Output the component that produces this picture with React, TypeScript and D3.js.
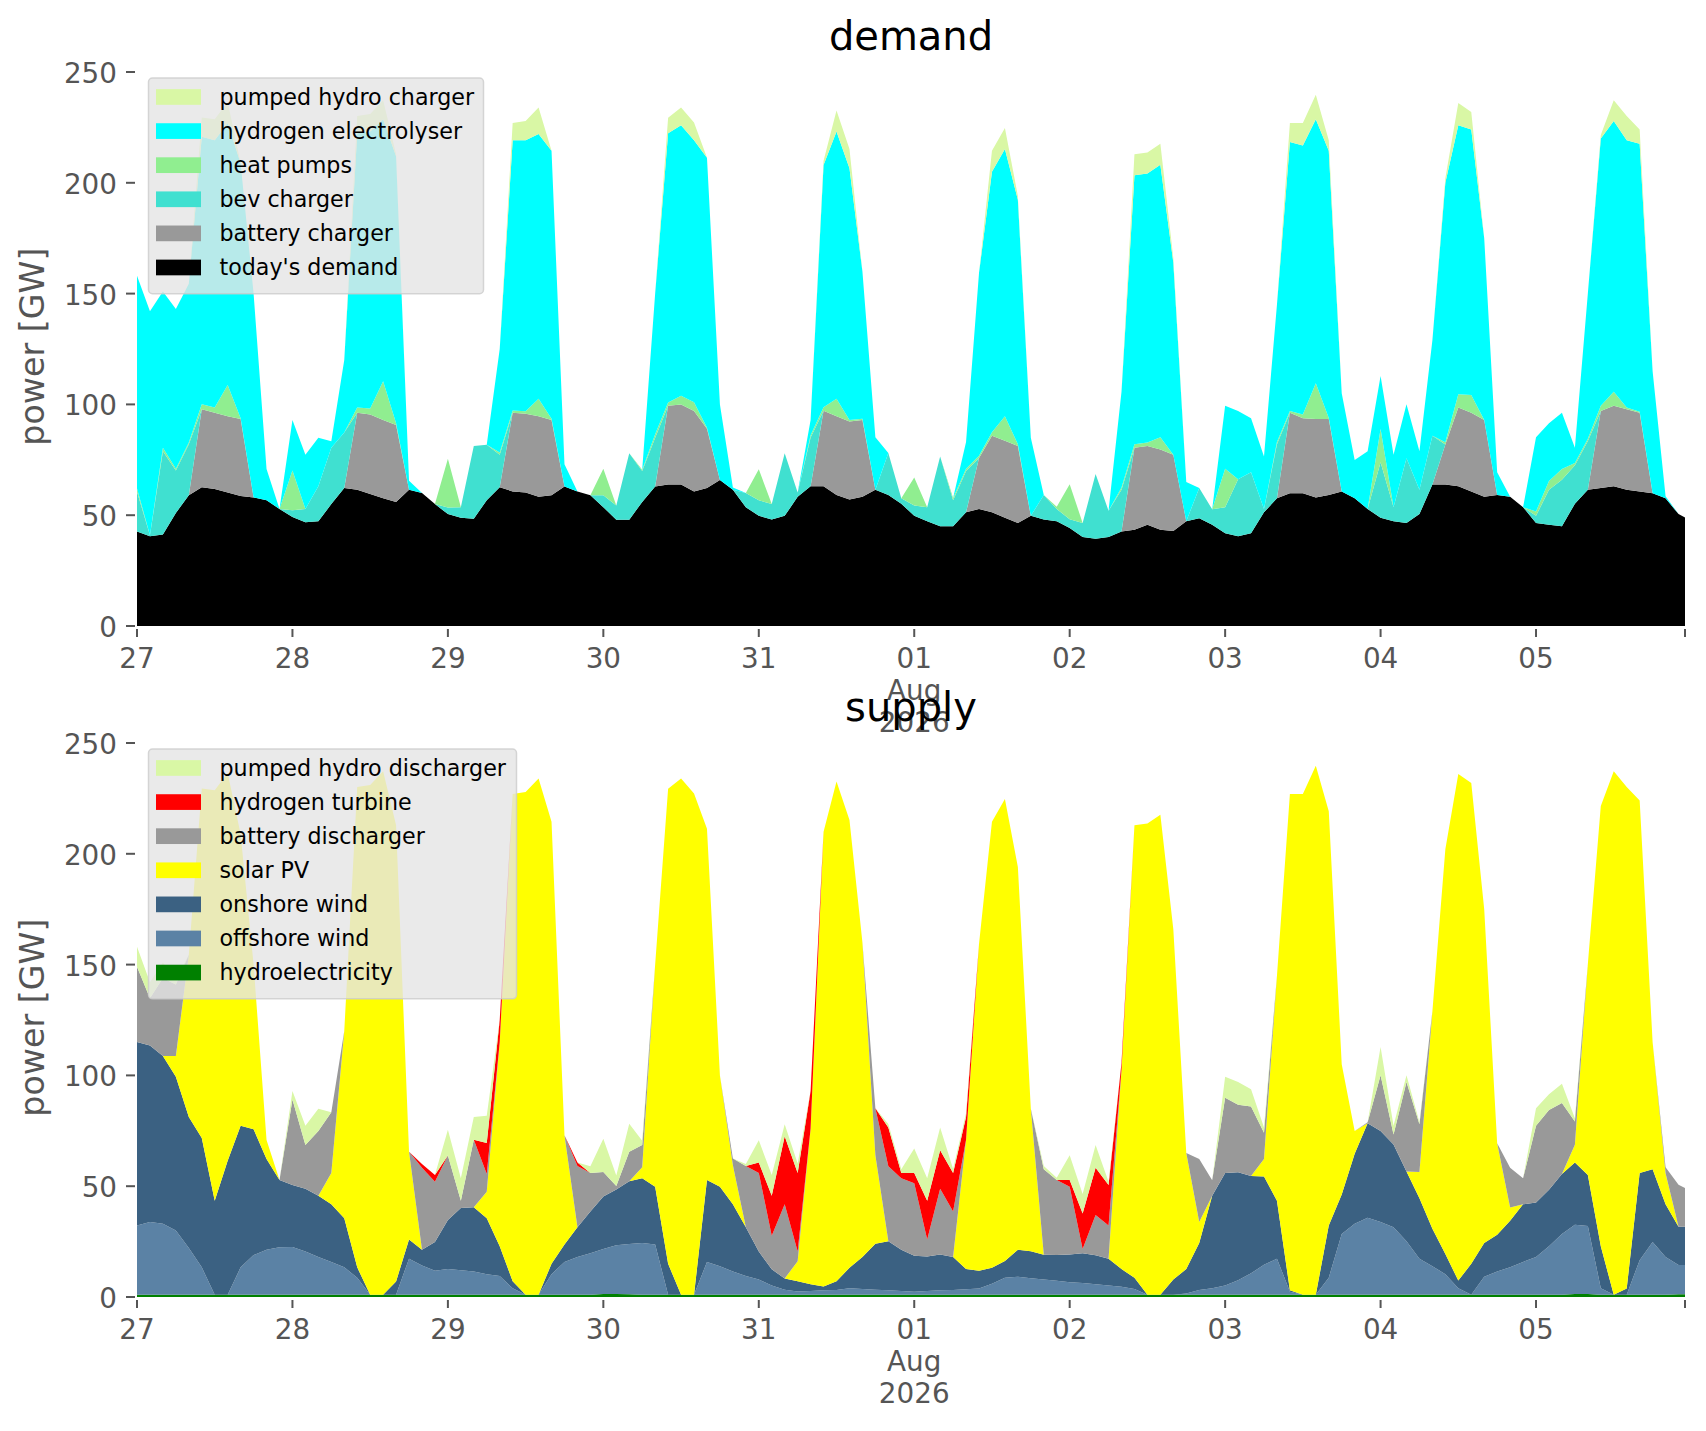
import { useEffect, useRef } from "react";
import * as d3 from "d3";

const WIDTH = 1706;
const HEIGHT = 1431;
const FONT = "DejaVu Sans";

// readings every 2 hours from 27 Jul 00:00, last one at 5 Aug 23:00
const startDate = new Date(Date.UTC(2026, 6, 27, 0));
const endDate = new Date(Date.UTC(2026, 7, 5, 23));
const sampleHours = [...d3.range(0, 240, 2), 239];

// ---- demand side (GW) ----
const todaysDemand = [
  42.6, 40.5, 41.3, 51, 59, 62.6, 61.8, 60.2, 58.7, 58, 56.8, 52.8,
  49.2, 46.8, 47.3, 55, 62.3, 61.5, 59.6, 57.6, 56, 61.5, 60, 55,
  50.5, 48.9, 48.4, 56.8, 62.6, 60.7, 60.2, 58.3, 59, 63, 60.7, 59,
  53.6, 48, 48, 56, 63, 63.9, 63.9, 60.7, 62.3, 65.9, 61.5, 53.6,
  49.7, 48.1, 49.7, 58.3, 63.1, 63.1, 59.1, 57.1, 58.3, 61.5, 59.1, 55.2,
  49.7, 47.3, 45, 45, 51.3, 52.8, 51.3, 48.9, 46.5, 49.7, 48.1, 47.3,
  44.2, 40.2, 39.4, 40.2, 42.6, 43.4, 45.7, 43.4, 42.9, 47.3, 48.6, 45.7,
  41.8, 40.5, 41.8, 51.3, 57.6, 59.9, 59.9, 58, 59.1, 60.7, 57.6, 52.8,
  48.9, 47.3, 46.5, 50.5, 63.9, 63.9, 63.1, 60.7, 58.3, 59.1, 58.3, 53.6,
  46.5, 45.7, 45, 55.2, 61.5, 62.3, 63.1, 61.5, 60.7, 59.9, 57.6, 50.5,
  49,
];
const batteryCharger = [
  0, 0, 0, 0, 0, 35.2, 34.4, 34.4, 34.7, 0, 0, 0,
  0, 0, 0, 0, 0, 34.7, 35.8, 35.4, 34.7, 0, 0, 0,
  0, 0, 0, 0, 0, 35.5, 35.6, 36.3, 34, 0, 0, 0,
  0, 0, 0, 0, 0, 35.5, 36, 36.3, 26.7, 0, 0, 0,
  0, 0, 0, 0, 0, 34, 35.5, 35.2, 34.7, 0, 0, 0,
  0, 0, 0, 0, 0, 23, 34.6, 34.7, 34.7, 0, 0, 0,
  0, 0, 0, 0, 0, 37, 35.5, 36.2, 34.4, 0, 0, 0,
  0, 0, 0, 0, 0, 36.3, 33.9, 35.4, 34.3, 0, 0, 0,
  0, 0, 0, 0, 0, 18, 35.5, 35.5, 34.7, 0, 0, 0,
  0, 0, 0, 0, 0, 34.7, 36.3, 36.3, 35.5, 0, 0, 0,
  0,
];
const bevCharger = [
  18, 0.5, 37.6, 19.2, 23, 0, 0, 0, 0, 0, 0, 0,
  3, 6, 15.8, 25.4, 25, 0, 0, 0, 0, 0, 0, 0,
  3, 4.7, 32.8, 25, 14.7, 0, 0, 0, 0, 0, 0, 0,
  5.4, 6.4, 30, 14, 22, 0, 0, 0, 0, 0, 0, 6.4,
  7, 7, 28.3, 2, 22, 0, 0, 0, 0, 0, 19, 2.4,
  4.7, 6.3, 31.5, 11.8, 18.7, 0, 0, 0, 0, 0, 11, 5.5,
  4, 6.3, 29.2, 11.8, 18.9, 0, 0, 0, 0, 0, 13.7, 7,
  11.8, 25.7, 27.6, 1.5, 24.4, 0, 0, 0, 0, 0, 0, 0,
  25, 6.3, 29.2, 11, 22, 0, 0, 0, 0, 0, 0, 0,
  3.2, 15.8, 21, 17.3, 22, 0, 0, 0, 0, 0, 0, 0,
  0,
];
const heatPumps = [
  1.5, 0, 1.5, 0.8, 0.8, 2.3, 2.4, 14.2, 0.4, 0, 0, 0,
  18, 0, 0, 0, 0, 2.4, 2.7, 17.4, 0.8, 0, 0, 0,
  22, 0, 0, 0, 1, 1, 1.1, 8, 0.5, 0, 0, 0,
  12, 0, 0, 0.5, 1.5, 1.5, 4, 4, 0.5, 0, 0, 0,
  14, 0, 0, 0, 1, 1.6, 7.9, 0.7, 0.5, 0, 0, 0,
  12.6, 0, 0, 1, 1, 1, 1.5, 11, 0.8, 0, 0, 1,
  15.8, 0, 0, 0, 1, 1.6, 1.6, 5.6, 0, 0, 0, 0,
  17.4, 0, 0, 0, 1, 0.8, 1.6, 16.2, 0.5, 0, 0, 0,
  15, 0, 0, 0, 0, 1, 6, 8, 0, 0, 0, 0,
  2, 3.9, 4.8, 1, 1, 2.4, 6.3, 0.8, 0.5, 0, 0, 0,
  0,
];
const hydrogenElectrolyser = [
  96, 101, 70.6, 72, 71.7, 120.7, 120.6, 118.2, 115, 92, 14, 0,
  22.8, 24.5, 21.9, 3, 32.7, 123.8, 125, 118.3, 120.5, 4, 0, 0,
  0, 0, 0, 0, 46.7, 122, 122.3, 119.4, 121, 10, 0, 0,
  0, 0, 0, 0, 63.5, 121.5, 122.1, 118.2, 121.8, 34.1, 1, 0,
  0, 0, 0, 0, 6.9, 109.3, 120.6, 113.6, 66.5, 23.7, 0, 0,
  0, 0, 0, 0, 12, 82.5, 117.6, 120.7, 110.4, 35.3, 0, 0,
  0, 0, 0, 0, 43.2, 121.4, 121.4, 123, 86.7, 17.7, 0, 0,
  28.4, 30.8, 24.4, 23.7, 62, 121.4, 121.4, 119.1, 120.6, 44.3, 17.3, 26.1,
  23.9, 23.7, 24.4, 17.4, 43.1, 117.1, 121.4, 119.8, 82, 10.3, 0, 0,
  33.5, 26.1, 25.4, 6.9, 65.5, 120.6, 122.2, 120.6, 120.9, 55.1, 1, 0,
  0,
];
const pumpedHydroCharger = [
  0, 0, 0, 0, 0, 8.7, 9.5, 9.5, 0, 0, 0, 0,
  0, 0, 0, 0, 0, 7.8, 7.9, 8.6, 0.9, 0, 0, 0,
  0, 0, 0, 0, 0, 7.8, 8.7, 12, 0, 0, 0, 0,
  0, 0, 0, 0, 0, 7, 8, 8, 0, 0, 0, 0,
  0, 0, 0, 0, 0, 2, 9.5, 8.7, 0, 0, 0, 0,
  0, 0, 0, 0, 0, 0, 9.5, 9.4, 1.6, 0, 0, 0,
  0, 0, 0, 0, 0, 9.5, 9.5, 9.4, 2, 0, 0, 0,
  0, 0, 0, 0, 0, 8.6, 10.2, 11, 4.7, 0, 0, 0,
  0, 0, 0, 0, 0, 2, 10, 8, 0, 0, 0, 0,
  0, 0, 0, 0, 0, 1.6, 9.4, 11, 6.4, 0, 0, 0,
  0,
];

// ---- supply side (GW) ----
const hydroelectricity = [
  1, 1, 1, 1, 1, 1, 1, 1, 1, 1, 1, 1,
  1, 1, 1, 1, 1, 1, 1, 1, 1, 1, 1, 1,
  1, 1, 1, 1, 1, 1, 1, 1, 1, 1, 1, 1,
  1.4, 1.4, 1.2, 1, 1, 1, 1, 1, 1, 1, 1, 1,
  1, 1, 1, 1, 1, 1, 1, 1, 1, 1, 1, 1,
  1, 1, 1, 1, 1, 1, 1, 1, 1, 1, 1, 1,
  1, 1, 1, 1, 1, 1, 1, 1, 1, 1, 1, 1,
  1, 1, 1, 1, 1, 1, 1, 1, 1, 1, 1, 1,
  1, 1, 1, 1, 1, 1, 1, 1, 1, 1, 1, 1,
  1, 1, 1, 1.3, 1.3, 1, 1, 1, 1, 1, 1, 1.2,
  1.2,
];
const offshoreWind = [
  31.3, 32.9, 32.1, 29, 21.1, 12.4, 0, 0, 12.4, 17.9, 20.3, 21.4,
  21.6, 19.5, 17.1, 14.8, 12.4, 7.7, 0, 0, 0, 16.3, 13.2, 10.8,
  11.6, 11.1, 10.5, 9.3, 8.5, 2.9, 0, 0, 9.3, 14.8, 17.1, 18.7,
  20.3, 21.9, 22.7, 23.4, 22.7, 0, 0, 0, 14.8, 12.9, 10.5, 8.5,
  6.9, 4.2, 2.3, 1.5, 1.7, 2, 2.2, 2.9, 2.6, 2.3, 2, 1.7,
  1.4, 1.7, 2, 2.2, 2.5, 2.8, 5, 7.7, 8.1, 7.5, 6.9, 6.3,
  5.6, 5.3, 4.8, 4.2, 3.6, 2.6, 0, 0, 0, 0.6, 2.2, 2.9,
  4.2, 6.6, 9.7, 13.5, 16.3, 1.4, 0, 0, 7.7, 27.4, 32.1, 34.8,
  32.9, 30.5, 24.2, 16.3, 12.9, 9.3, 2.9, 0, 8.1, 10.5, 12.4, 14.8,
  17.1, 21.9, 27.4, 31.3, 30.7, 2.9, 0, 0, 15.6, 23.8, 17.1, 13.2,
  13.2,
];
const onshoreWind = [
  82.8, 79.6, 75.7, 69.4, 59.1, 58.4, 42.4, 60.5, 63.9, 56.8, 41, 30.4,
  27.9, 28.4, 27.6, 26, 22.1, 4.7, 0, 0, 6, 8.7, 7.1, 13,
  22.1, 28.1, 29, 25.2, 13.4, 3.2, 0, 0, 4.7, 7.9, 13.4, 18.9,
  23.7, 25.2, 28.3, 29.2, 26, 14, 0, 0, 37, 35.8, 30.3, 22,
  12.6, 7.3, 5.1, 4.6, 3.1, 1.7, 3.9, 9.3, 14.4, 20.7, 22.2, 18.6,
  16.2, 15.6, 16.2, 14.9, 9.1, 8, 7.2, 7.5, 12.2, 12.2, 11.2, 11.6,
  12.6, 13.4, 13, 12.1, 8, 5.1, 0, 0, 6.9, 11, 21.2, 41.8,
  50.8, 48.7, 43.9, 39.9, 26.1, 0.6, 0, 0, 23.6, 17.8, 31.6, 42.6,
  41, 37.3, 31.4, 27.3, 16.9, 9.1, 3.5, 14, 15.3, 16.6, 21, 26,
  24.5, 25.5, 27.1, 28.1, 23, 19, 0, 2.8, 39.4, 32.8, 23.7, 17.3,
  17.3,
];
const solarPV = [
  0, 0, 0, 9.4, 73.3, 157.7, 185.3, 175, 131.5, 74.3, 8.5, 0,
  0, 0, 0, 14.2, 84.5, 216.8, 230, 236.3, 205.9, 39.5, 0, 0,
  0, 0, 0, 12, 92.1, 219.9, 226.9, 233, 199.5, 49.3, 0, 0,
  0, 0, 0, 5, 100.3, 214.4, 233, 226.2, 158.5, 50.3, 17.6, 0,
  0, 0, 0, 9, 70.2, 205.3, 225.5, 202.1, 142, 40, 0, 0,
  0, 0, 0, 0, 58.4, 147.5, 201.3, 208.5, 172.7, 64.3, 0, 0,
  0, 0, 0, 0, 89.8, 204.2, 212.7, 216.6, 158.1, 52.4, 9.5, 0,
  0, 0, 0, 7.9, 101.6, 224, 226, 238.7, 186.9, 58.8, 10.2, 0,
  0, 0, 0, 11.8, 98.2, 182.6, 228.6, 217, 150.6, 41.3, 6, 0,
  0, 0, 0, 8, 95.3, 198.7, 236.3, 226.4, 168, 57.4, 14, 0,
  0,
];
const batteryDischarger = [
  33.9, 21.3, 35.2, 32.2, 0, 0, 0, 0, 0, 0, 0, 0,
  38.6, 19.7, 29.2, 27.4, 0, 0, 0, 0, 0, 0, 37, 27.2,
  29.2, 3.2, 30.5, 8, 0, 0, 0, 0, 0, 0, 27.6, 17.4,
  11, 1.6, 13.4, 10, 0, 0, 0, 0, 0, 0, 3.1, 27.6,
  35.5, 15.1, 33.4, 4.4, 0, 0, 0, 0, 0, 21.2, 33.8, 32.3,
  32.7, 7.7, 29.7, 20.5, 0, 0, 0, 0, 0, 0, 38.5, 33.9,
  30.5, 2, 18.2, 15, 0, 0, 0, 0, 0, 0, 28.4, 7,
  33.9, 30.4, 31.4, 11.8, 0, 0, 0, 0, 0, 0, 0, 0.5,
  25.2, 4.5, 40.4, 21.5, 0, 0, 0, 0, 0, 0, 17.9, 11.8,
  34.7, 36, 32, 10.5, 0, 0, 0, 0, 0, 0, 2.8, 19,
  17.5,
];
const hydrogenTurbine = [
  0, 0, 0, 0, 0, 0, 0, 0, 0, 0, 0, 0,
  0, 0, 0, 0, 0, 0, 0, 0, 0, 0, 1.7, 3,
  0, 0, 0, 14, 10, 0, 0, 0, 0, 0, 1.6, 0,
  0, 0, 0, 0, 0, 0, 0, 0, 0, 0, 0, 0,
  4.7, 18.1, 30.7, 35.5, 17, 0, 0, 0, 0, 0, 17.5, 2.4,
  4.7, 17.4, 17.3, 17.4, 10.2, 0, 0, 0, 0, 0, 0, 0,
  3.1, 16, 21.3, 18.2, 3.3, 0, 0, 0, 0, 0, 0, 0,
  0, 0, 0, 0, 0, 0, 0, 0, 0, 0, 0, 0,
  0, 0, 0, 0, 0, 0, 0, 0, 0, 0, 0, 0,
  0, 0, 0, 0, 0, 0, 0, 0, 0, 0, 0, 0,
  0,
];
const pumpedHydroDischarger = [
  9.1, 7.2, 7, 2, 0, 0, 0, 0, 0, 0, 0, 0,
  3.9, 8.7, 10.1, 0, 0, 0, 0, 0, 0, 0, 0, 0,
  11.6, 10.2, 10.2, 12.3, 0, 0, 0, 0, 0, 0, 0, 3,
  15, 4.7, 12.6, 1.9, 0, 0, 0, 0, 0, 0, 0, 0.9,
  10, 9.4, 5.5, 4.3, 0, 0, 0, 0, 0, 0, 1.6, 1.6,
  11, 10.2, 10.3, 1.8, 1.8, 0, 0, 0, 0, 0, 1.5, 1,
  11.2, 8.8, 10.3, 1.5, 0, 0, 0, 0, 0, 0, 0, 0,
  9.5, 10.3, 7.8, 2.4, 0, 0, 0, 0, 0, 0, 0, 0,
  12.7, 4, 3.1, 1, 0, 0, 0, 0, 0, 0, 0, 0,
  7.9, 7.1, 8.7, 1.5, 0, 0, 0, 0, 0, 0, 0, 0,
  0,
];

const yTicks = [0, 50, 100, 150, 200, 250];

type Layer = { key: string; label: string; color: string; values: number[] };

// bottom of the stack first
const demandLayers: Layer[] = [
  { key: "demand", label: "today's demand", color: "#000000", values: todaysDemand },
  { key: "battery", label: "battery charger", color: "#999999", values: batteryCharger },
  { key: "bev", label: "bev charger", color: "#40e0d0", values: bevCharger },
  { key: "heat", label: "heat pumps", color: "#90ee90", values: heatPumps },
  { key: "h2", label: "hydrogen electrolyser", color: "#00ffff", values: hydrogenElectrolyser },
  { key: "ph", label: "pumped hydro charger", color: "#d9f7a5", values: pumpedHydroCharger },
];

const supplyLayers: Layer[] = [
  { key: "hydro", label: "hydroelectricity", color: "#008000", values: hydroelectricity },
  { key: "offshore", label: "offshore wind", color: "#5b82a5", values: offshoreWind },
  { key: "onshore", label: "onshore wind", color: "#3b6182", values: onshoreWind },
  { key: "solar", label: "solar PV", color: "#ffff00", values: solarPV },
  { key: "battery", label: "battery discharger", color: "#999999", values: batteryDischarger },
  { key: "h2", label: "hydrogen turbine", color: "#ff0000", values: hydrogenTurbine },
  { key: "ph", label: "pumped hydro discharger", color: "#d9f7a5", values: pumpedHydroDischarger },
];

const X_LEFT = 137;
const X_RIGHT = 1685;
const PX_PER_GW = 2.216;

const x = d3.scaleUtc().domain([startDate, endDate]).range([X_LEFT, X_RIGHT]);
const hourToDate = (h: number) => new Date(startDate.getTime() + h * 3600 * 1000);

function drawPanel(
  svg: d3.Selection<SVGSVGElement, unknown, null, undefined>,
  title: string,
  layers: Layer[],
  baseY: number,
  legendWidth: number
) {
  const y = d3.scaleLinear().domain([0, 250]).range([baseY, baseY - 250 * PX_PER_GW]);
  const axesTop = baseY - 252.2 * PX_PER_GW;

  const rows = sampleHours.map((h, i) => {
    const r: Record<string, number> = { hour: h };
    layers.forEach(l => (r[l.key] = l.values[i]));
    return r;
  });
  const series = d3.stack<Record<string, number>>().keys(layers.map(l => l.key))(rows);

  const area = d3
    .area<d3.SeriesPoint<Record<string, number>>>()
    .x(d => x(hourToDate(d.data.hour)))
    .y0(d => y(d[0]))
    .y1(d => y(d[1]));

  const g = svg.append("g");

  g.selectAll("path.layer")
    .data(series)
    .enter()
    .append("path")
    .attr("class", "layer")
    .attr("d", d => area(d)!)
    .attr("fill", (_, i) => layers[i].color);

  // y axis
  yTicks.forEach(t => {
    g.append("line")
      .attr("x1", X_LEFT - 11).attr("x2", X_LEFT - 2)
      .attr("y1", y(t)).attr("y2", y(t))
      .attr("stroke", "#555555").attr("stroke-width", 2);
    g.append("text")
      .attr("x", X_LEFT - 20).attr("y", y(t) + 11)
      .attr("text-anchor", "end")
      .attr("font-family", FONT).attr("font-size", 27.8)
      .attr("fill", "#555555")
      .text(t);
  });

  g.append("text")
    .attr("transform", `translate(44, ${(baseY + axesTop) / 2}) rotate(-90)`)
    .attr("text-anchor", "middle")
    .attr("font-family", FONT).attr("font-size", 33.3)
    .attr("fill", "#555555")
    .text("power [GW]");

  // x axis
  const days = d3.utcDay.range(startDate, endDate);
  const dayFmt = d3.utcFormat("%d");
  [...days, endDate].forEach(d => {
    g.append("line")
      .attr("x1", x(d)).attr("x2", x(d))
      .attr("y1", baseY + 3).attr("y2", baseY + 11)
      .attr("stroke", "#555555").attr("stroke-width", 2);
  });
  days.forEach(d => {
    const lines = [dayFmt(d)];
    if (d.getUTCDate() === 1) lines.push(d3.utcFormat("%b")(d), d3.utcFormat("%Y")(d));
    lines.forEach((txt, k) => {
      g.append("text")
        .attr("x", x(d)).attr("y", baseY + 42 + k * 32)
        .attr("text-anchor", "middle")
        .attr("font-family", FONT).attr("font-size", 27.8)
        .attr("fill", "#555555")
        .text(txt);
    });
  });

  // title
  g.append("text")
    .attr("x", (X_LEFT + X_RIGHT) / 2).attr("y", axesTop - 17)
    .attr("text-anchor", "middle")
    .attr("font-family", FONT).attr("font-size", 40)
    .attr("fill", "#000000")
    .text(title);

  // legend, top entry = top of the stack
  const entries = [...layers].reverse();
  const lx = X_LEFT + 11.5;
  const ly = axesTop + 11;
  const rowH = 34.1;
  const lg = g.append("g");
  lg.append("rect")
    .attr("x", lx).attr("y", ly)
    .attr("width", legendWidth).attr("height", 12 + entries.length * rowH - 1)
    .attr("rx", 4)
    .attr("fill", "#e5e5e5").attr("fill-opacity", 0.8)
    .attr("stroke", "#cccccc").attr("stroke-opacity", 0.8).attr("stroke-width", 1.5);
  entries.forEach((l, i) => {
    const top = ly + 11 + i * rowH;
    lg.append("rect")
      .attr("x", lx + 7.5).attr("y", top)
      .attr("width", 45).attr("height", 15.7)
      .attr("fill", l.color);
    lg.append("text")
      .attr("x", lx + 71).attr("y", top + 15.7)
      .attr("font-family", FONT).attr("font-size", 22.2)
      .attr("fill", "#000000")
      .text(l.label);
  });
}

const App = () => {
  const ref = useRef<SVGSVGElement | null>(null);

  useEffect(() => {
    if (!ref.current) return;
    const svg = d3.select(ref.current);
    svg.selectAll("*").remove();
    svg.append("rect").attr("width", WIDTH).attr("height", HEIGHT).attr("fill", "#ffffff");
    drawPanel(svg, "demand", demandLayers, 626, 335);
    drawPanel(svg, "supply", supplyLayers, 1297, 368);
  }, []);

  return (
    <div>
      <style>{"body { margin: 0; }"}</style>
      <svg ref={ref} width={WIDTH} height={HEIGHT} viewBox={`0 0 ${WIDTH} ${HEIGHT}`} style={{ display: "block" }} />
    </div>
  );
};

export default App;
